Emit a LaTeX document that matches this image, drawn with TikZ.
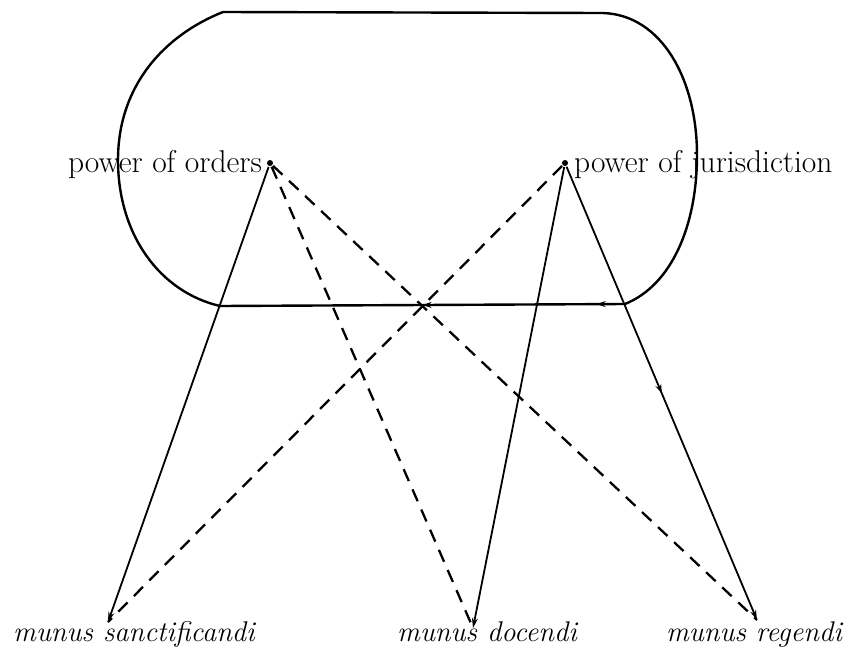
\documentclass[tikz,border=0pt]{standalone}
\usetikzlibrary{arrows.meta,decorations.markings}
\begin{document}
\begin{tikzpicture}[x=1pt,y=-1pt,line width=2.2pt,
  lbl/.style={inner sep=0pt,font=\fontsize{31.5}{33}\selectfont},
  ilbl/.style={inner sep=0pt,font=\fontsize{28.5}{30}\selectfont\itshape},
  pdot/.style={circle,fill=black,inner sep=0pt,minimum size=6pt},
  conn/.style={line width=1.8pt},
  dconn/.style={line width=2.3pt,dash pattern=on 13pt off 9pt},
  headed/.style={-{Stealth[length=10pt,width=6pt]}},
  twoarrows/.style={postaction={decorate},decoration={markings,
     mark=at position 0.07 with {\arrow{Stealth[length=9pt,width=6pt]}},
     mark=at position 0.5 with {\arrow{Stealth[length=9pt,width=6pt]}}}},
  midarrow/.style={postaction={decorate},decoration={markings,
     mark=at position #1 with {\arrow{Stealth[length=9pt,width=6pt]}}}}
]
\useasboundingbox (0,0) rectangle (854,659);
% enclosing rounded shape
\draw[line width=2.4pt] (223,12) -- (603,13)
  .. controls (662,15) and (697,80) .. (697,155)
  .. controls (697,225) and (672,285) .. (625,304);
\draw[line width=2.4pt,twoarrows] (625,304) -- (220,306);
\draw[line width=2.4pt] (220,306)
  .. controls (160,292) and (118,235) .. (118,160)
  .. controls (118,85) and (165,35) .. (223,12);
% power nodes
\node[pdot] (po) at (270,163) {};
\node[pdot] (pj) at (565,163) {};
\node[lbl,anchor=base east] (tpo) at (263,172) {power of orders};
\node[lbl,anchor=base west] (tpj) at (573,172) {power of jurisdiction};
% bottom targets
\coordinate (ms) at (108,622);
\coordinate (md) at (473,628);
\coordinate (mr) at (757,620);
\node[ilbl,anchor=base] (ts) at (134,641) {munus sanctificandi};
\node[ilbl,anchor=base] (td) at (487,641) {munus docendi};
\node[ilbl,anchor=base] (tr) at (754,641) {munus regendi};
% connectors
\draw[conn,headed] (po) -- (ms);
\draw[dconn] (po) -- (md);
\draw[dconn] (po) -- (mr);
\draw[dconn] (pj) -- (ms);
\draw[conn,headed] (pj) -- (md);
\draw[conn,headed,midarrow=0.5] (pj) -- (mr);
\end{tikzpicture}
\end{document}
